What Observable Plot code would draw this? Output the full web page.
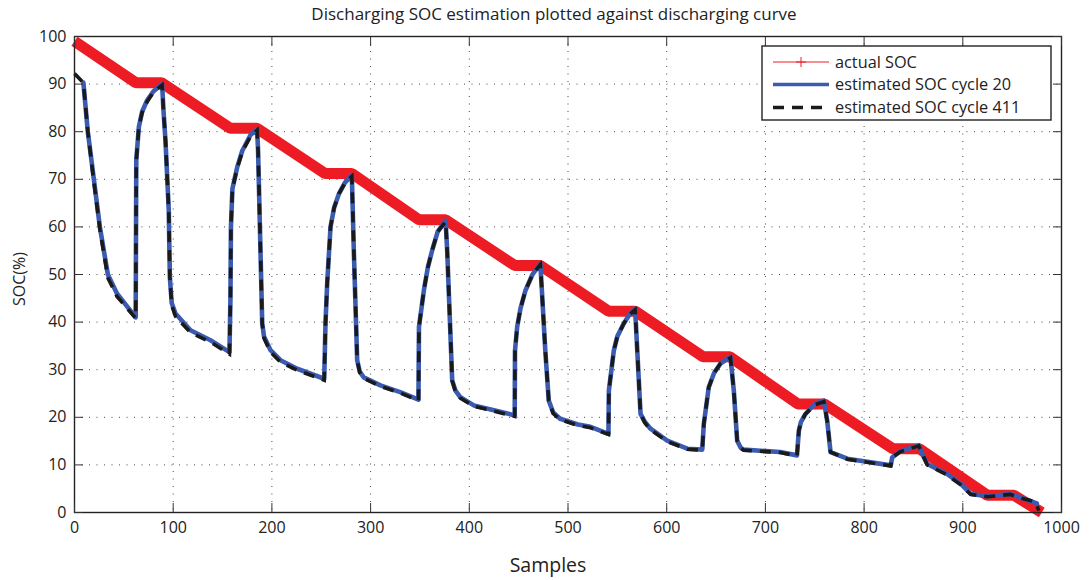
<!DOCTYPE html>
<html><head><meta charset="utf-8">
<script src="https://cdn.jsdelivr.net/npm/d3@7"></script>
<script src="https://cdn.jsdelivr.net/npm/@observablehq/plot@0.6"></script>
<style>body{margin:0;background:#fff}</style>
</head><body><div id="chart"></div>
<script>
const titleText = "Discharging SOC estimation plotted against discharging curve";
const xLabel = "Samples";
const yLabel = "SOC(%)";
const seriesNames = ["actual SOC", "estimated SOC cycle 20", "estimated SOC cycle 411"];
const xTicks = [0,100,200,300,400,500,600,700,800,900,1000];
const yTicks = [0,10,20,30,40,50,60,70,80,90,100];

const actualSamples = [0,62,88,158,185,254,281,349,376,446,472,541,568,637,664,733,760,829,856,925,952,980];
const actualSoc = [99,90.3,90.3,80.7,80.7,71.2,71.2,61.5,61.5,51.9,51.9,42.3,42.3,32.7,32.7,22.8,22.8,13.4,13.4,3.6,3.6,0];

const cycle20Samples = [9,13.5,19.6,25.7,33.8,43,62,62.6,65.2,68.5,73.6,80,88.8,90,92.2,95.5,96.6,98.5,102.3,117.5,137.8,157,
 158,158.5,160,164.8,170,178.3,185,186,190.2,192,198.6,208.7,225.6,253,
 254.3,256,259.4,263,268,274,281,283,286.4,289,293,310,330,348.5,
 349,354,358,362.4,368,376,377.6,382.7,386,391,404.6,425,446,
 446.3,448.5,452,457,464,472,477,480.5,485,492,510,522.8,541,
 541.4,546.4,550,556.5,562,568,573.5,578,583.6,600.5,620.8,636,
 637.6,642.6,648,654.5,664.6,668,671.4,675,678,715,732,
 733.9,736,740.6,750,759.2,762.6,766,783,827,
 828.5,837,855.4,860.5,864,884,898,908,925,948,958,975];
const cycle20Soc = [90.3,80,70,60,50,46,41,74,81,84.2,86.6,88.5,90,85,78,63.5,49.5,44,41.8,38.3,36.2,33.7,
 45,60,68,72.5,76,79.3,80.5,76,39.7,37,34.1,32,30.2,28.1,
 39.7,48.1,60,64,67,69.3,70.8,55,32,29.6,28.4,26.7,25.3,23.7,
 39,46.7,51.5,55.1,59,61.3,55,27.7,25.6,24.2,22.5,21.5,20.4,
 34,39,43,46.7,50,52.3,34,23.5,21,19.7,18.5,18,16.5,
 25.6,34,37,39.7,41.5,42.8,20.7,19,17.6,15.1,13.4,13.2,
 18.6,26.3,29.3,31.3,32.7,25.6,15.1,13.6,13.2,12.7,12,
 17.2,19,20.7,22.8,23.5,19.3,12.7,11.3,9.9,
 11.6,12.9,14.1,11.6,10.2,8.1,6,3.9,3.4,3.9,3.2,1.9];

const cycle411Samples = [0,9,13.5,19.6,25.7,33.8,43,62,62.6,65.2,68.5,73.6,80,88.8,90,92.2,95.5,96.6,98.5,102.3,117.5,137.8,157,
 158,158.5,160,164.8,170,178.3,185,186,190.2,192,198.6,208.7,225.6,253,
 254.3,256,259.4,263,268,274,281,283,286.4,289,293,310,330,348.5,
 349,354,358,362.4,368,376,377.6,382.7,386,391,404.6,425,446,
 446.3,448.5,452,457,464,472,477,480.5,485,492,510,522.8,541,
 541.4,546.4,550,556.5,562,568,573.5,578,583.6,600.5,620.8,636,
 637.6,642.6,648,654.5,664.6,668,671.4,675,678,715,732,
 733.9,736,740.6,750,759.2,762.6,766,783,827,
 828.5,837,855.4,860.5,864,884,898,908,925,948,958,973.6,977];
const cycle411Soc = [92.2,90.3,80,69.5,59.5,49.3,45.4,40.8,74,81,84,86.3,88.3,89.8,85,78,63.5,49.5,43.5,41.2,37.8,35.8,33.3,
 45,60,68,72.3,75.8,79,80.3,76,39.7,36.6,33.7,31.6,29.9,27.8,
 39.7,48.1,60,64,67,69.2,70.6,55,32,29.4,28.2,26.5,25.1,23.5,
 39,46.7,51.5,55.1,59,61.1,55,27.7,25.4,24,22.3,21.3,20.2,
 34,39,43,46.7,50,52.1,34,23.5,20.8,19.5,18.3,17.8,16.4,
 25.6,34,37,39.7,41.5,42.6,20.7,18.8,17.4,14.9,13.3,13.1,
 18.6,26.3,29.3,31.3,32.5,25.6,15.1,13.5,13.1,12.6,11.9,
 17.2,19,20.7,22.6,23.3,19.3,12.7,11.2,9.8,
 11.6,12.8,14,11.6,10,7.9,5.8,3.8,3.3,3.8,3.1,2.2,0.4];

const actual = actualSamples.map((x,i)=>({x, y: actualSoc[i]}));
const c20 = cycle20Samples.map((x,i)=>({x, y: cycle20Soc[i]}));
const c411 = cycle411Samples.map((x,i)=>({x, y: cycle411Soc[i]}));

const W = 1092, H = 580;
const font = "'Open Sans', 'DejaVu Sans', sans-serif";
const red = "#ed1c24", blue = "#3a5bb0", black = "#1a1a1a";

const plot = Plot.plot({
  width: W, height: H,
  marginLeft: 74, marginRight: 31, marginTop: 36, marginBottom: 68,
  style: {fontFamily: font, fontSize: "16px", color: "#222", background: "#fff", overflow: "visible"},
  x: {domain: [0, 1000]},
  y: {domain: [0, 100]},
  marks: [
    Plot.gridX(xTicks, {stroke: "#333", strokeOpacity: 0.9, strokeDasharray: "1,6.5"}),
    Plot.gridY(yTicks, {stroke: "#333", strokeOpacity: 0.9, strokeDasharray: "1,6.5"}),
    Plot.line(actual, {x: "x", y: "y", stroke: red, strokeWidth: 11, strokeLinejoin: "miter", strokeLinecap: "butt"}),
    Plot.line(c20, {x: "x", y: "y", stroke: blue, strokeWidth: 4.6, strokeLinejoin: "round"}),
    Plot.line(c411, {x: "x", y: "y", stroke: black, strokeWidth: 3.6, strokeDasharray: "11,8", strokeLinecap: "butt"}),
    Plot.frame({stroke: "#222", strokeWidth: 1.4}),
    Plot.axisX(xTicks, {anchor: "bottom", tickSize: -9, tickPadding: 18, tickFormat: d3.format("d"), label: null, stroke: "#333"}),
    Plot.axisX(xTicks, {anchor: "top", tickSize: -9, tickFormat: () => "", label: null, stroke: "#333"}),
    Plot.axisY(yTicks, {anchor: "left", tickSize: -9, tickPadding: 17, label: null, stroke: "#333"}),
    Plot.axisY(yTicks, {anchor: "right", tickSize: -9, tickFormat: () => "", label: null, stroke: "#333"})
  ]
});

const svg = d3.select(plot);
const lineGroups = svg.selectAll('g[aria-label="line"]').nodes();
if (lineGroups.length >= 3) {
  const g = d3.select(lineGroups[2]);
  g.selectAll("path").attr("stroke-dasharray", "11,8").attr("stroke-linecap", "butt").attr("stroke-linejoin", "miter");
}
svg.append("text").attr("x", 554).attr("y", 20).attr("text-anchor", "middle")
  .attr("font-size", 17).attr("fill", "#222").text(titleText);
svg.append("text").attr("x", 548).attr("y", 572).attr("text-anchor", "middle")
  .attr("font-size", 19.5).attr("fill", "#222").text(xLabel);
svg.append("text").attr("transform", "translate(25,279) rotate(-90)").attr("text-anchor", "middle")
  .attr("font-size", 16).attr("fill", "#222").text(yLabel);

const lg = svg.append("g");
lg.append("rect").attr("x", 762).attr("y", 46).attr("width", 289).attr("height", 74)
  .attr("fill", "#fff").attr("stroke", "#222").attr("stroke-width", 1.4);
const rowsY = [62, 84.5, 107.5];
lg.append("line").attr("x1", 773).attr("x2", 829).attr("y1", rowsY[0]).attr("y2", rowsY[0]).attr("stroke", red).attr("stroke-width", 1);
lg.append("path").attr("d", `M${801-5},${rowsY[0]}h10M801,${rowsY[0]-5}v10`).attr("stroke", red).attr("stroke-width", 1);
lg.append("line").attr("x1", 773).attr("x2", 829).attr("y1", rowsY[1]).attr("y2", rowsY[1]).attr("stroke", blue).attr("stroke-width", 3.5);
lg.append("line").attr("x1", 773).attr("x2", 829).attr("y1", rowsY[2]).attr("y2", rowsY[2]).attr("stroke", black).attr("stroke-width", 3.5).attr("stroke-dasharray", "11,8");
seriesNames.forEach((n, i) => {
  lg.append("text").attr("x", 835).attr("y", rowsY[i]).attr("dy", "0.35em").attr("text-anchor", "start")
    .attr("font-size", 16.3).attr("fill", "#222").text(n);
});

document.getElementById("chart").appendChild(plot);
</script></body></html>
